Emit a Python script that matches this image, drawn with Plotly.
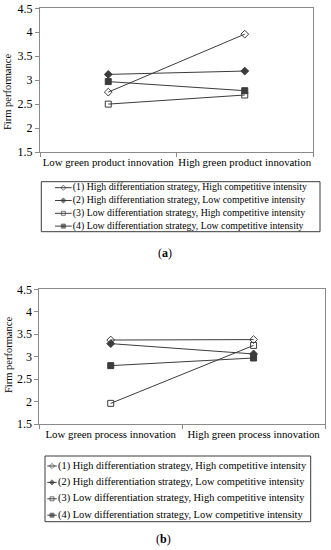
import plotly.graph_objects as go

W, H = 331, 550

# ---------------- data ----------------
series_names = [
    "(1) High differentiation strategy, High competitive intensity",
    "(2) High differentiation strategy, Low competitive intensity",
    "(3) Low differentiation strategy, High competitive intensity",
    "(4) Low differentiation strategy, Low competitive intensity",
]
series_symbols = ["diamond-open", "diamond", "square-open", "square"]

cats_a = ["Low green product innovation", "High green product innovation"]
vals_a_1 = [2.75, 3.96]
vals_a_2 = [3.12, 3.19]
vals_a_3 = [2.50, 2.69]
vals_a_4 = [2.97, 2.78]

cats_b = ["Low green process innovation", "High green process innovation"]
vals_b_1 = [3.37, 3.38]
vals_b_2 = [3.29, 3.06]
vals_b_3 = [1.96, 3.25]
vals_b_4 = [2.80, 2.97]

y_ticks = [1.5, 2, 2.5, 3, 3.5, 4, 4.5]
y_title = "Firm performance"
panel_labels = ["(<b>a</b>)", "(<b>b</b>)"]

# ---------------- layout helpers ----------------
FONT = "Liberation Serif"
LINE = "#3c3c3c"
AXC = "#8a8a8a"


def px_x(x):
    return x / W


def px_y(y):
    return 1 - y / H


fig = go.Figure()

panels = [
    dict(cats=cats_a, vals=[vals_a_1, vals_a_2, vals_a_3, vals_a_4],
         xd=(40.0, 313.0), yd=(8.3, 152.0), ax="", legax="3",
         leg=dict(x0=41.3, x1=320.0, y0=181.7, y1=231.7, top=6.0, row=12.8,
                  s0=13.7, s1=30.4, t=31.5, fs=9.8),
         ytitle_y=92.0, label_xy=(165, 253)),
    dict(cats=cats_b, vals=[vals_b_1, vals_b_2, vals_b_3, vals_b_4],
         xd=(39.3, 325.0), yd=(289.3, 424.0), ax="2", legax="4",
         leg=dict(x0=45.0, x1=310.7, y0=456.0, y1=521.7, top=10.0, row=16.4,
                  s0=2.3, s1=11.7, t=13.0, fs=10.4),
         ytitle_y=355.0, label_xy=(163, 539)),
]

layout_axes = {}
annotations = []
shapes = []

for p in panels:
    xa = "x" + p["ax"]
    ya = "y" + p["ax"]
    for i, vals in enumerate(p["vals"]):
        fig.add_trace(go.Scatter(
            x=p["cats"], y=vals, xaxis=xa, yaxis=ya, mode="lines+markers",
            name=series_names[i], showlegend=False,
            line=dict(color=LINE, width=1),
            marker=dict(symbol=series_symbols[i], size=6, color=LINE,
                        line=dict(color=LINE, width=1)),
        ))
    kx = "xaxis" + p["ax"]
    ky = "yaxis" + p["ax"]
    layout_axes[kx] = dict(
        domain=[px_x(p["xd"][0]), px_x(p["xd"][1])], anchor=ya,
        type="category", categoryorder="array", categoryarray=p["cats"],
        range=[-0.5, 1.5], tickson="boundaries", ticks="outside", ticklen=4,
        tickangle=0,
        tickcolor=AXC, showline=True, linecolor=AXC, linewidth=1, mirror=True,
        showgrid=False, zeroline=False, automargin=False, fixedrange=True,
        tickfont=dict(family=FONT, size=10.8, color="black"),
    )
    layout_axes[ky] = dict(
        domain=[px_y(p["yd"][1]), px_y(p["yd"][0])], anchor=xa,
        range=[1.5, 4.5], tickvals=y_ticks, ticks="outside", ticklen=4,
        tickcolor=AXC, showline=True, linecolor=AXC, linewidth=1, mirror=True,
        showgrid=False, zeroline=False, automargin=False, fixedrange=True,
        tickfont=dict(family=FONT, size=12, color="black"),
    )
    annotations.append(dict(
        text=y_title, textangle=-90, xref="paper", yref="paper",
        x=px_x(8), y=px_y(p["ytitle_y"]), xanchor="center", yanchor="middle",
        showarrow=False,
        font=dict(family=FONT, size=10.5, color="black"),
    ))
    annotations.append(dict(
        text=panel_labels[0 if p["ax"] == "" else 1], xref="paper", yref="paper",
        x=px_x(p["label_xy"][0]), y=px_y(p["label_xy"][1]),
        xanchor="center", yanchor="middle", showarrow=False,
        font=dict(family=FONT, size=12, color="black"),
    ))

    # custom legend on its own pixel-unit axes
    L = p["leg"]
    lx = "x" + p["legax"]
    ly = "y" + p["legax"]
    layout_axes["xaxis" + p["legax"]] = dict(
        domain=[px_x(L["x0"]), px_x(L["x1"])], anchor=ly,
        range=[0, L["x1"] - L["x0"]], visible=False, fixedrange=True)
    layout_axes["yaxis" + p["legax"]] = dict(
        domain=[px_y(L["y1"]), px_y(L["y0"])], anchor=lx,
        range=[L["y1"] - L["y0"], 0], visible=False, fixedrange=True)
    shapes.append(dict(type="rect", xref=lx + " domain", yref=ly + " domain",
                       x0=0, x1=1, y0=0, y1=1,
                       line=dict(color="#3a3a3a", width=1)))
    for i, nm in enumerate(series_names):
        yy = L["top"] + L["row"] * i
        xm = (L["s0"] + L["s1"]) / 2
        fig.add_trace(go.Scatter(
            x=[L["s0"], xm, L["s1"]], y=[yy, yy, yy], xaxis=lx, yaxis=ly,
            mode="lines+markers", showlegend=False, hoverinfo="skip",
            line=dict(color=LINE, width=1),
            marker=dict(symbol=series_symbols[i], size=[0, 4, 0], color=LINE,
                        line=dict(color=LINE, width=1)),
            cliponaxis=False,
        ))
        fig.add_trace(go.Scatter(
            x=[L["t"]], y=[yy], xaxis=lx, yaxis=ly, mode="text",
            text=[nm], textposition="middle right", showlegend=False,
            hoverinfo="skip", cliponaxis=False,
            textfont=dict(family=FONT, size=L["fs"], color="black"),
        ))

fig.update_layout(
    width=W, height=H, margin=dict(l=0, r=0, t=0, b=0),
    paper_bgcolor="white", plot_bgcolor="white",
    showlegend=False, annotations=annotations, shapes=shapes,
    **layout_axes,
)

fig.write_html(
    "out.html",
    config={"displayModeBar": False},
    post_script="document.body.style.margin='0';document.body.style.padding='0';",
)
